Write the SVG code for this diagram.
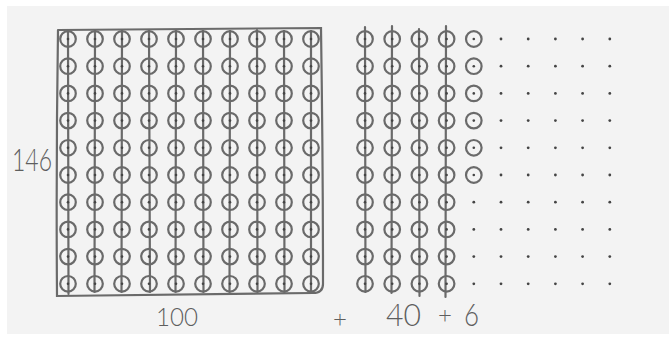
<svg xmlns="http://www.w3.org/2000/svg" xmlns:xlink="http://www.w3.org/1999/xlink" width="669" height="338" viewBox="0 0 669 338">
<style>
.ln{stroke:#6a6a6a;stroke-width:2.2;fill:none;stroke-linecap:round}
.c{stroke:#6a6a6a;stroke-width:2.2;fill:none}
.d{fill:#444}
.t{font-family:Lato,"Open Sans","Liberation Sans",sans-serif;font-weight:300;fill:#5e5e5e}
</style>
<defs>
<g id="u"><circle class="c" r="7.8"/><circle class="d" r="1.3"/></g>
<circle id="p" class="d" r="1.4"/>
</defs>
<rect x="0" y="0" width="669" height="338" fill="#ffffff"/>
<rect x="7" y="6" width="662" height="328" fill="#f3f3f3"/>

<g id="hundreds">
<path class="ln" d="M58 30 Q200 29 321 28 Q323 160 323 284 Q323 293 313 293 Q180 294 57 296 Q56 160 58 30"/>
<g id="hundred-lines">
<line class="ln" x1="68" y1="32" x2="68.5" y2="294"/>
<line class="ln" x1="95" y1="31" x2="94.5" y2="292"/>
<line class="ln" x1="122" y1="31" x2="121.5" y2="292"/>
<line class="ln" x1="149" y1="31" x2="150" y2="292"/>
<line class="ln" x1="176" y1="31" x2="175.5" y2="292"/>
<line class="ln" x1="203" y1="31" x2="203.5" y2="292"/>
<line class="ln" x1="230" y1="31" x2="229.5" y2="292"/>
<line class="ln" x1="257" y1="30" x2="257.5" y2="292"/>
<line class="ln" x1="284" y1="31" x2="284.5" y2="292"/>
<line class="ln" x1="311" y1="31" x2="311" y2="292"/>
</g>
<g id="hundred-units">
<g id="hrow1"><use xlink:href="#u" x="68" y="39"/><use xlink:href="#u" x="95" y="39"/><use xlink:href="#u" x="122" y="39"/><use xlink:href="#u" x="149" y="39"/><use xlink:href="#u" x="176" y="39"/><use xlink:href="#u" x="203" y="39"/><use xlink:href="#u" x="230" y="39"/><use xlink:href="#u" x="257" y="39"/><use xlink:href="#u" x="284" y="39"/><use xlink:href="#u" x="311" y="39"/></g>
<use xlink:href="#hrow1" y="27.2"/>
<use xlink:href="#hrow1" y="54.4"/>
<use xlink:href="#hrow1" y="81.6"/>
<use xlink:href="#hrow1" y="108.8"/>
<use xlink:href="#hrow1" y="136"/>
<use xlink:href="#hrow1" y="163.2"/>
<use xlink:href="#hrow1" y="190.4"/>
<use xlink:href="#hrow1" y="217.6"/>
<use xlink:href="#hrow1" y="244.8"/>
</g>
</g>

<g id="tens">
<line class="ln" x1="365" y1="27" x2="365.5" y2="292"/>
<line class="ln" x1="392" y1="26" x2="391.5" y2="293"/>
<line class="ln" x1="419" y1="29" x2="419.5" y2="296"/>
<line class="ln" x1="446" y1="26" x2="445.5" y2="297"/>
<g id="trow1"><use xlink:href="#u" x="365" y="39"/><use xlink:href="#u" x="392.2" y="39"/><use xlink:href="#u" x="419.4" y="39"/><use xlink:href="#u" x="446.6" y="39"/></g>
<use xlink:href="#trow1" y="27.2"/>
<use xlink:href="#trow1" y="54.4"/>
<use xlink:href="#trow1" y="81.6"/>
<use xlink:href="#trow1" y="108.8"/>
<use xlink:href="#trow1" y="136"/>
<use xlink:href="#trow1" y="163.2"/>
<use xlink:href="#trow1" y="190.4"/>
<use xlink:href="#trow1" y="217.6"/>
<use xlink:href="#trow1" y="244.8"/>
</g>

<g id="ones">
<use xlink:href="#u" x="473.8" y="39"/>
<use xlink:href="#u" x="473.8" y="66.2"/>
<use xlink:href="#u" x="473.8" y="93.4"/>
<use xlink:href="#u" x="473.8" y="120.6"/>
<use xlink:href="#u" x="473.8" y="147.8"/>
<use xlink:href="#u" x="473.8" y="175"/>
</g>

<g id="dots">
<g id="drow1"><use xlink:href="#p" x="501" y="39"/><use xlink:href="#p" x="528.2" y="39"/><use xlink:href="#p" x="555.4" y="39"/><use xlink:href="#p" x="582.6" y="39"/><use xlink:href="#p" x="609.8" y="39"/></g>
<use xlink:href="#drow1" y="27.2"/>
<use xlink:href="#drow1" y="54.4"/>
<use xlink:href="#drow1" y="81.6"/>
<use xlink:href="#drow1" y="108.8"/>
<use xlink:href="#drow1" y="136"/>
<use xlink:href="#p" x="473.8" y="202.2"/>
<use xlink:href="#p" x="473.8" y="229.4"/>
<use xlink:href="#p" x="473.8" y="256.6"/>
<use xlink:href="#p" x="473.8" y="283.8"/>
<use xlink:href="#drow1" y="163.2"/>
<use xlink:href="#drow1" y="190.4"/>
<use xlink:href="#drow1" y="217.6"/>
<use xlink:href="#drow1" y="244.8"/>
</g>

<g id="labels">
<text class="t" x="12" y="171" font-size="31" textLength="40" lengthAdjust="spacingAndGlyphs">146</text>
<text class="t" x="156" y="326" font-size="26" textLength="42" lengthAdjust="spacingAndGlyphs">100</text>
<text class="t" x="340" y="327" font-size="24" text-anchor="middle">+</text>
<text class="t" x="386" y="326" font-size="31" textLength="35" lengthAdjust="spacingAndGlyphs">40</text>
<text class="t" x="445" y="323" font-size="24" text-anchor="middle">+</text>
<text class="t" x="464" y="326" font-size="31" textLength="15" lengthAdjust="spacingAndGlyphs">6</text>
</g>
</svg>
